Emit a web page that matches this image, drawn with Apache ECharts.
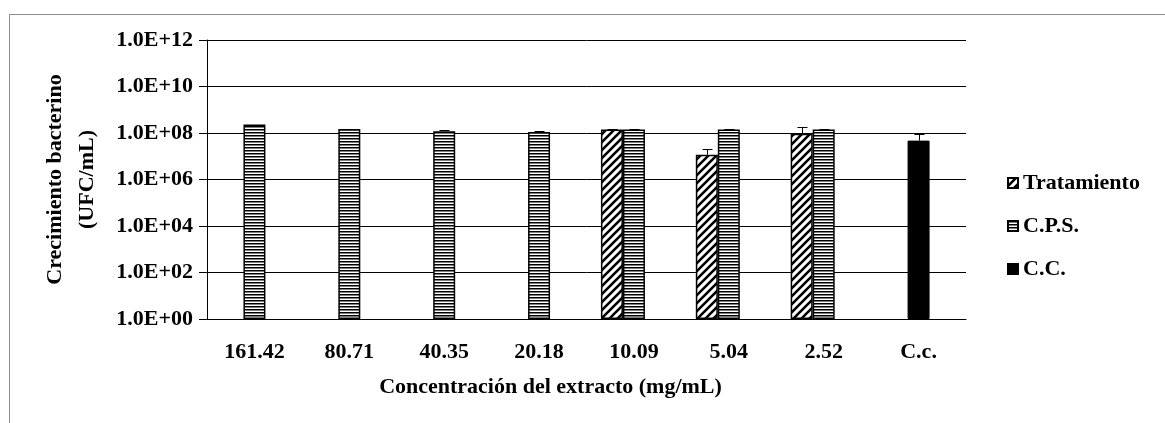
<!DOCTYPE html>
<html>
<head>
<meta charset="utf-8">
<script src="https://cdn.jsdelivr.net/npm/echarts@6/dist/echarts.min.js"></script>
<style>
html,body{margin:0;padding:0;background:#fff;}
#chart{width:1165px;height:423px;}
</style>
</head>
<body>
<div id="chart"></div>
<script>
// ---- data ----
const categories = ['161.42', '80.71', '40.35', '20.18', '10.09', '5.04', '2.52', 'C.c.'];
const tratamiento = [null, null, null, null, 1.4e8, 1.17e7, 9.3e7, null];
const tratamientoErrTop = [null, null, null, null, 1.55e8, 2.1e7, 1.9e8, null];
const cps = [2.3e8, 1.5e8, 1.2e8, 1.1e8, 1.4e8, 1.4e8, 1.4e8, null];
const cpsErrTop = [null, null, 1.3e8, 1.2e8, 1.5e8, 1.5e8, 1.5e8, null];
const cc = [null, null, null, null, null, null, null, 4.7e7];
const ccErrTop = [null, null, null, null, null, null, null, 9e7];
const yTickExponents = [0, 2, 4, 6, 8, 10, 12];

// ---- patterns ----
function hatchPattern() {
  const c = document.createElement('canvas');
  c.width = 8; c.height = 8;
  const g = c.getContext('2d');
  g.fillStyle = '#fff'; g.fillRect(0, 0, 8, 8);
  g.strokeStyle = '#000'; g.lineWidth = 2.6;
  g.beginPath();
  g.moveTo(-1, 9); g.lineTo(9, -1);
  g.moveTo(-5, 5); g.lineTo(5, -5);
  g.moveTo(3, 13); g.lineTo(13, 3);
  g.stroke();
  return { image: c, repeat: 'repeat' };
}
function stripePattern() {
  const c = document.createElement('canvas');
  c.width = 4; c.height = 3;
  const g = c.getContext('2d');
  g.fillStyle = '#fff'; g.fillRect(0, 0, 4, 3);
  g.fillStyle = '#000'; g.fillRect(0, 0, 4, 1.5);
  return { image: c, repeat: 'repeat' };
}

const BW = 22;
const FONT = 'Liberation Serif';
const FS = 22;
const toData = a => a.map(v => (v == null ? '-' : v));

function errItems(vals, tops, slot) {
  const out = [];
  vals.forEach((v, i) => {
    if (v != null && tops[i] != null) out.push([i, v, tops[i], slot]);
  });
  return out;
}
const errorData = [].concat(
  errItems(tratamiento, tratamientoErrTop, -1),
  errItems(cps, cpsErrTop, 0),
  errItems(cc, ccErrTop, 0)
);

const chart = echarts.init(document.getElementById('chart'), null, { renderer: 'canvas' });
chart.setOption({
  animation: false,
  backgroundColor: '#fff',
  textStyle: { fontFamily: FONT },
  graphic: [{
    type: 'rect', left: 7, top: 12,
    shape: { width: 1200, height: 500 },
    style: { fill: 'none', stroke: '#8c8c8c', lineWidth: 1 },
    silent: true
  }],
  grid: { left: 207, right: 199, top: 40, bottom: 104 },
  legend: {
    data: ['Tratamiento', 'C.P.S.', 'C.C.'],
    orient: 'vertical',
    left: 1002, top: 167,
    icon: 'rect',
    itemWidth: 10, itemHeight: 10, itemGap: 21,
    textStyle: { fontFamily: FONT, fontWeight: 'bold', fontSize: FS, color: '#000' }
  },
  xAxis: [{
    type: 'category', data: categories,
    axisLine: { lineStyle: { color: '#000', width: 1 } },
    axisTick: { show: false },
    axisLabel: { color: '#000', fontFamily: FONT, fontWeight: 'bold', fontSize: FS, margin: 22 },
    name: 'Concentración del extracto (mg/mL)',
    nameLocation: 'middle', nameGap: 57,
    nameTextStyle: { color: '#000', fontFamily: FONT, fontWeight: 'bold', fontSize: FS, padding: [0, 72, 0, 0] }
  }, {
    type: 'category', data: categories, show: false
  }],
  yAxis: {
    type: 'log', logBase: 10, min: 1, max: 1e12, interval: 2,
    axisLine: { show: true, lineStyle: { color: '#000' } },
    axisTick: { show: true, inside: false, length: 8, lineStyle: { color: '#000' } },
    minorTick: { show: false },
    splitLine: { show: true, lineStyle: { color: '#000', width: 1 } },
    axisLabel: {
      color: '#000', fontFamily: FONT, fontWeight: 'bold', fontSize: FS, margin: 14,
      formatter: v => {
        const e = Math.round(Math.log10(v));
        if (!yTickExponents.includes(e)) return '';
        return '1.0E+' + (e < 10 ? '0' + e : '' + e);
      }
    },
    name: 'Crecimiento bacterino\n(UFC/mL)',
    nameLocation: 'middle', nameGap: 104, nameRotate: 90,
    nameTextStyle: { color: '#000', fontFamily: FONT, fontWeight: 'bold', fontSize: FS, lineHeight: 32 }
  },
  series: [{
    name: 'Tratamiento', type: 'bar', xAxisIndex: 0, barWidth: BW, barGap: '0%',
    data: toData(tratamiento),
    itemStyle: { color: hatchPattern(), borderColor: '#000', borderWidth: 1.5 }
  }, {
    name: 'C.P.S.', type: 'bar', xAxisIndex: 0, barWidth: BW, barGap: '0%',
    data: toData(cps),
    itemStyle: { color: stripePattern(), borderColor: '#000', borderWidth: 1.5 }
  }, {
    name: 'slot', type: 'bar', xAxisIndex: 0, barWidth: BW, barGap: '0%',
    data: categories.map(() => '-')
  }, {
    name: 'C.C.', type: 'bar', xAxisIndex: 1, barWidth: BW,
    data: toData(cc),
    itemStyle: { color: '#000', borderColor: '#000', borderWidth: 1 }
  }, {
    name: 'err', type: 'custom', xAxisIndex: 0,
    encode: { x: 0, y: [1, 2] },
    data: errorData,
    z: 5,
    renderItem: function (params, api) {
      const idx = api.value(0);
      const p1 = api.coord([idx, api.value(1)]);
      const p2 = api.coord([idx, api.value(2)]);
      const x = Math.round(p1[0] + api.value(3) * BW) + 0.5;
      const y2 = Math.round(p2[1]) + 0.5;
      return {
        type: 'group',
        children: [
          { type: 'line', shape: { x1: x, y1: p1[1], x2: x, y2: y2 }, style: { stroke: '#000', lineWidth: 1 } },
          { type: 'line', shape: { x1: x - 5, y1: y2, x2: x + 5, y2: y2 }, style: { stroke: '#000', lineWidth: 1 } }
        ]
      };
    }
  }]
});
</script>
</body>
</html>
